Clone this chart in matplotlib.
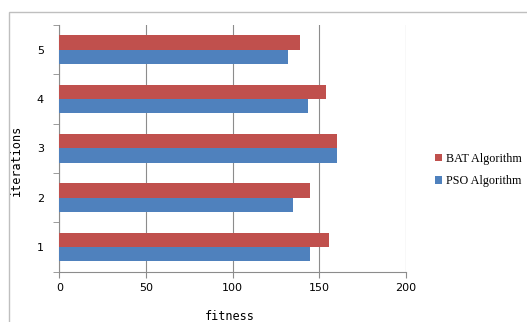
import matplotlib.pyplot as plt
from matplotlib.patches import Rectangle
import numpy as np

iterations = [1, 2, 3, 4, 5]
bat = [156, 144.5, 160.5, 154, 139]
pso = [144.5, 135, 160.5, 143.5, 132]
xticks = [0, 50, 100, 150, 200]

red = '#C0504D'
blue = '#4F81BD'
grid = '#8C8C8C'

fig = plt.figure(figsize=(5.27, 3.22), dpi=100)
W, H = 527, 322

# outer chart frame
fig.patches.append(Rectangle((9.3 / W, -0.1), 1.2, 1 - 12.3 / H + 0.1,
                             transform=fig.transFigure, fill=False,
                             edgecolor='#BFBFBF', linewidth=1.0))

ax = fig.add_axes([59.3 / W, 1 - 271.7 / H, 346.4 / W, 246.7 / H])
y = np.array(iterations)
h = 0.29
ax.barh(y + h / 2, bat, height=h, color=red, label='BAT Algorithm', zorder=3)
ax.barh(y - h / 2, pso, height=h, color=blue, label='PSO Algorithm', zorder=3)

ax.set_xlim(0, 200)
ax.set_ylim(0.5, 5.5)
ax.set_xticks(xticks)
ax.set_yticks(iterations)
ax.set_yticks(np.arange(0.5, 6, 1), minor=True)
ax.tick_params(axis='y', which='major', length=0, pad=11, labelsize=8)
ax.tick_params(axis='y', which='minor', length=4, color=grid, direction='out')
ax.tick_params(axis='x', length=4, color=grid, labelsize=8, pad=4)
ax.grid(axis='x', color=grid, linewidth=0.8, zorder=0)

for s in ['top', 'right']:
    ax.spines[s].set_visible(False)
for s in ['left', 'bottom']:
    ax.spines[s].set_color(grid)
    ax.spines[s].set_linewidth(0.8)

ax.set_xlabel('fitness', family='DejaVu Sans Mono', fontsize=8.5)
ax.set_ylabel('iterations', family='DejaVu Sans Mono', fontsize=8.5)
ax.xaxis.set_label_coords((230 - 59.3) / 346.4, -(310.5 - 271.7) / 246.7)
ax.yaxis.set_label_coords(-(59.3 - 22.7) / 346.4, (271.7 - 160) / 246.7)

leg = ax.legend(loc='center left', bbox_to_anchor=(424 / W, 1 - 170 / H),
                bbox_transform=fig.transFigure, frameon=False,
                prop={'family': 'Liberation Serif', 'size': 8.7},
                handlelength=0.55, handleheight=0.55, handletextpad=0.35,
                labelspacing=0.85)

fig.savefig('out.png', dpi=100)
